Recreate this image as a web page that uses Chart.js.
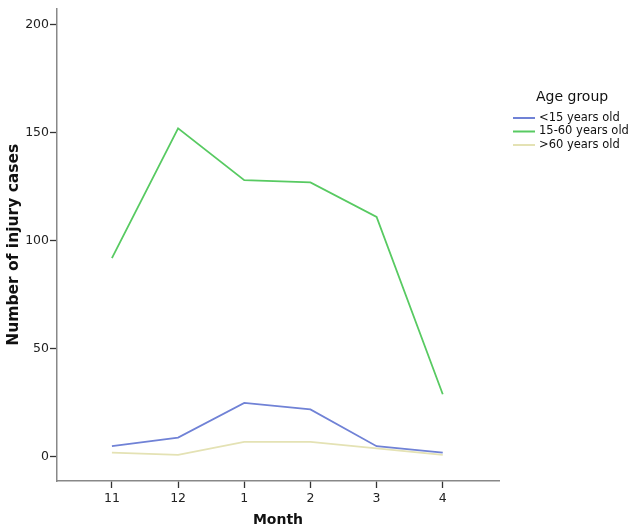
<!DOCTYPE html>
<html>
<head>
<meta charset="utf-8">
<script src="https://cdn.jsdelivr.net/npm/chart.js@4"></script>
<style>
  html, body { margin: 0; padding: 0; background: #fff; }
  #wrap { width: 630px; height: 529px; position: relative; }
</style>
</head>
<body>
<div id="wrap"><canvas id="injury_chart" width="630" height="529"></canvas></div>
<script>
const months = ["11", "12", "1", "2", "3", "4"];
const under15 = [5, 9, 25, 22, 5, 2];
const age15to60 = [92, 152, 128, 127, 111, 29];
const over60 = [2, 1, 7, 7, 4, 1];
const y_ticks = [0, 50, 100, 150, 200];

const seriesNames = ["<15 years old", "15-60 years old", ">60 years old"];
const seriesColors = ["rgb(112, 130, 214)", "rgb(88, 202, 98)", "rgb(228, 226, 180)"];

function toPoints(values) {
    return values.map((v, i) => ({ x: i, y: v }));
}

// legend on the right, drawn on canvas
const sideLegend = {
    id: "sideLegend",
    afterDraw(chart) {
        const ctx = chart.ctx;
        ctx.save();
        ctx.fillStyle = "#111";
        ctx.font = "14px 'DejaVu Sans'";
        ctx.textBaseline = "middle";
        ctx.textAlign = "left";
        ctx.fillText("Age group", 536, 97);
        ctx.font = "11.5px 'DejaVu Sans'";
        chart.data.datasets.forEach((ds, i) => {
            const y = 118 + i * 13.5;
            ctx.strokeStyle = ds.borderColor;
            ctx.lineWidth = 2;
            ctx.beginPath();
            ctx.moveTo(513, y);
            ctx.lineTo(535, y);
            ctx.stroke();
            ctx.fillStyle = "#111";
            ctx.fillText(ds.label, 539, y);
        });
        ctx.restore();
    }
};

const ctx = document.getElementById("injury_chart");
const injury_chart = new Chart(ctx, {
    type: "line",
    data: {
        datasets: [under15, age15to60, over60].map((vals, i) => ({
            label: seriesNames[i],
            data: toPoints(vals),
            borderColor: seriesColors[i],
            backgroundColor: seriesColors[i],
            borderWidth: 1.8,
            pointRadius: 0,
            tension: 0,
        })),
    },
    options: {
        responsive: false,
        animation: false,
        layout: { padding: { left: 0, right: 131, top: 0, bottom: 0 } },
        plugins: { legend: { display: false }, tooltip: { enabled: false } },
        scales: {
            x: {
                type: "linear",
                min: -0.83,
                max: 5.85,
                afterFit(scale) { scale.height = 48; },
                afterBuildTicks(scale) {
                    scale.ticks = months.map((m, i) => ({ value: i }));
                },
                grid: { drawOnChartArea: false, color: "#333", tickLength: 7, tickWidth: 1.3 },
                border: { color: "#888", width: 1.5 },
                ticks: {
                    color: "#222",
                    font: { family: "DejaVu Sans", size: 12.5 },
                    padding: 3,
                    callback: (v) => months[v],
                },
                title: {
                    display: true,
                    text: "Month",
                    color: "#111",
                    font: { family: "DejaVu Sans", size: 14, weight: "bold" },
                    padding: { top: 0, bottom: 0 },
                },
            },
            y: {
                min: -11.1,
                max: 207.4,
                afterFit(scale) { scale.width = 57; },
                afterBuildTicks(scale) {
                    scale.ticks = y_ticks.map((v) => ({ value: v }));
                },
                grid: { drawOnChartArea: false, color: "#333", tickLength: 7, tickWidth: 1.3 },
                border: { color: "#888", width: 1.5 },
                ticks: {
                    color: "#222",
                    font: { family: "DejaVu Sans", size: 12.5 },
                    padding: 1,
                },
                title: {
                    display: true,
                    text: "Number of injury cases",
                    color: "#111",
                    font: { family: "DejaVu Sans", size: 15.5, weight: "bold" },
                    padding: { top: 5, bottom: 0 },
                },
            },
        },
    },
    plugins: [sideLegend],
});
</script>
</body>
</html>
